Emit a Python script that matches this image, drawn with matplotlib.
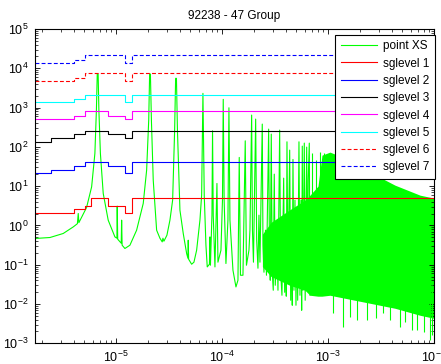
import matplotlib
matplotlib.use('Agg')
import matplotlib.pyplot as plt
import numpy as np

plt.rcParams['font.family'] = ['Liberation Sans', 'DejaVu Sans']
plt.rcParams['mathtext.default'] = 'regular'

# subgroup group boundaries (eV) and the level for each group
group_ev = [1.70, 2.40, 3.96, 5.10, 5.77, 8.40, 12.08, 13.98, 1.0e4]
sglevel_1 = [2.02, 2.02, 2.55, 3.09, 4.86, 3.09, 2.02, 4.86]
sglevel_2 = [21.1, 25.6, 32.3, 40.2, 40.2, 32.3, 21.1, 40.2]
sglevel_3 = [130, 164, 208, 256, 256, 208, 164, 256]
sglevel_4 = [500, 500, 618, 800, 800, 618, 500, 800]
sglevel_5 = [1357, 1357, 1647, 2046, 2046, 2046, 1357, 2046]
sglevel_6 = [4733, 4733, 5744, 7434, 7434, 7434, 4733, 7434]
sglevel_7 = [13370, 13370, 16230, 21760, 21760, 21760, 13370, 21760]

# point-wise cross section, resolved part (eV, barn)
pxs_ev = [1.70, 2.37, 3.16, 3.93, 4.30, 4.38, 4.44, 5.25, 5.86, 6.29, 6.50, 6.62,
          6.75, 6.86, 7.09, 7.54, 8.40, 9.72, 10.15, 10.22, 10.33, 11.15, 11.25,
          11.37, 12.08, 13.47, 15.58, 17.99, 19.37, 20.27, 20.67, 21.03, 21.49,
          22.36, 24.07, 25.86, 27.19, 27.61, 28.21, 30.11, 32.14, 34.09, 35.60,
          36.38, 37.03, 37.84, 39.95, 42.93, 46.22, 47.53, 47.85, 48.27, 51.52,
          54.16, 57.43, 61.71, 64.03, 65.87, 67.76, 70.31, 72.33, 75.87, 76.70,
          77.54, 80.11, 81.16, 82.41, 85.51, 89.31, 91.27, 97.43, 100.7, 102.4,
          104.4, 108.6, 113.4, 115.9, 118.5, 126.5, 135.0, 141.0, 145.0, 148.9,
          157.2, 165.2, 169.6, 179.1, 183.0, 189.9, 193.2, 197.5, 207.2, 211.8,
          217.8, 222.6, 227.5, 239.2, 242.9, 248.2, 256.4, 262.0, 274.8, 279.7,
          284.6, 290.9, 297.2, 303.7, 310.5, 317.3, 329.3, 336.5, 349.1, 356.8,
          367.0, 380.9, 389.3, 396.1, 403.1, 409.3, 418.3, 434.1, 443.6, 453.4,
          459.2, 466.3, 476.4, 487.0, 497.7, 508.6, 516.4, 531.2, 542.9, 554.8,
          563.3, 570.8, 579.4, 596.2, 608.0, 628.2, 639.3, 649.0, 664.8, 675.0]
pxs_b = [0.465, 0.493, 0.624, 0.918, 1.108, 2.016, 1.175, 2.866, 9.60, 68.1, 864, 7136,
         7136, 864, 68.1, 6.52, 1.361, 0.511, 0.473, 3.094, 0.446, 0.353, 1.361,
         0.314, 0.259, 0.314, 0.757, 3.625, 25.56, 480, 7136, 7136, 480,
         14.22, 0.757, 0.473, 0.381, 0.473, 0.397, 0.564, 1.361, 4.398, 267,
         5544, 5544, 267, 2.446, 0.624, 0.193, 0.146, 0.421, 0.138, 0.103,
         0.116, 0.234, 1.361, 5.90, 2300, 5.90, 0.314, 0.0879, 0.103, 0.511,
         0.0971, 1.824, 256, 1.824, 0.0879, 11.72, 0.116, 0.234, 4.398, 1618,
         4.398, 0.1073, 1.361, 988, 1.361, 0.0724, 0.0272, 0.0403, 53.85, 0.054,
         0.054, 142.6, 0.0971, 0.234, 0.757, 644, 0.757, 0.116, 509, 0.421,
         0.0814, 1.824, 0.116, 380, 0.314, 0.0644, 0.757, 0.054, 283, 0.234,
         0.0403, 211, 0.0644, 0.0224, 20.2, 0.030, 0.421, 0.0224, 267, 0.0644,
         0.0167, 16.0, 0.0199, 0.757, 0.0158, 134.5, 0.0403, 82.6, 0.01246, 1.361,
         0.00929, 47.9, 0.0224, 4.398, 0.00929, 0.757, 0.01246, 134.5, 0.0167, 4.398,
         0.00693, 104.5, 0.0224, 124.6, 0.01246, 98.5, 0.030, 14.2, 124.6, 0.0167]

# dense part: envelope of the solid green mass
band_ev = [240, 290, 434, 605, 675, 803, 876, 1042, 1444, 2487, 4282, 7375, 10000]
band_hi = [0.6, 1.2, 2.5, 4.4, 5.9, 10.0, 61.6, 73.5, 51.7, 22.7, 10.6, 5.9, 4.95]
band_lo = [0.09, 0.05, 0.03, 0.0224, 0.0167, 0.0158, 0.0158, 0.0167, 0.0140,
           0.01045, 0.00779, 0.00517, 0.00433]

# isolated spikes sticking out of the band
dip_ev = [1113, 1382, 1610, 1875, 2330, 2834, 3299, 3841, 4773, 5323, 6197, 6910, 8044, 9168, 9575]
dip_b = [0.00581, 0.00256, 0.0046, 0.00385, 0.00385, 0.00433, 0.00581, 0.00385,
         0.00256, 0.00343, 0.00214, 0.00214, 0.00191, 0.00119, 0.0016]
peak_ev = [709, 769, 838, 921, 970]
peak_b = [69.3, 46.0, 73.5, 69.3, 61.6]

MeV = 1e-6
green = '#00ff00'

fig = plt.figure(figsize=(4.41, 3.64), dpi=100)
ax = fig.add_axes([34.7 / 441, 1 - 343.3 / 364, 399.3 / 441, 314.3 / 364])

ax.plot(np.array(pxs_ev) * MeV, pxs_b, color=green, lw=0.8, label='point XS')
ax.fill_between(np.array(band_ev) * MeV, band_lo, band_hi, color=green, lw=0)
ax.vlines(np.array(dip_ev) * MeV, dip_b, 0.03, color=green, lw=0.8)
ax.vlines(np.array(peak_ev) * MeV, 1.0, peak_b, color=green, lw=0.8)

levels = [sglevel_1, sglevel_2, sglevel_3, sglevel_4, sglevel_5, sglevel_6, sglevel_7]
colors = ['#ff0000', '#0000ff', '#000000', '#ff00ff', '#00ffff', '#ff0000', '#0000ff']
styles = ['-', '-', '-', '-', '-', (0, (3.5, 2)), (0, (3.5, 2))]
edges = np.array(group_ev) * MeV
for i, lev in enumerate(levels):
    ax.plot(edges, lev + [lev[-1]], drawstyle='steps-post', color=colors[i],
            ls=styles[i], lw=0.8, label='sglevel %d' % (i + 1))

ax.set_xscale('log')
ax.set_yscale('log')
ax.set_xlim(1.7e-6, 1e-2)
ax.set_ylim(1e-3, 1e5)
ax.set_title('92238 - 47 Group', fontsize=8.5, pad=7)
ax.tick_params(which='both', direction='in', top=True, right=True, labelsize=9)
ax.tick_params(which='major', length=3.6, width=0.6, pad=4.5)
ax.tick_params(which='minor', length=2, width=0.5)
ax.xaxis.set_minor_locator(matplotlib.ticker.LogLocator(base=10, subs=np.arange(2, 10), numticks=20))
ax.yaxis.set_minor_locator(matplotlib.ticker.LogLocator(base=10, subs=np.arange(2, 10), numticks=20))
ax.xaxis.set_minor_formatter(matplotlib.ticker.NullFormatter())
ax.yaxis.set_minor_formatter(matplotlib.ticker.NullFormatter())
for s in ax.spines.values():
    s.set_linewidth(0.8)

leg = ax.legend(loc='upper right', bbox_to_anchor=(1.0025, 0.981), borderaxespad=0,
                fontsize=8.5, frameon=True, fancybox=False, edgecolor='black',
                framealpha=1, handlelength=3.1, labelspacing=0.45, borderpad=0.45,
                handletextpad=0.5)
leg.get_frame().set_linewidth(0.8)

plt.savefig('out.png', dpi=100)
